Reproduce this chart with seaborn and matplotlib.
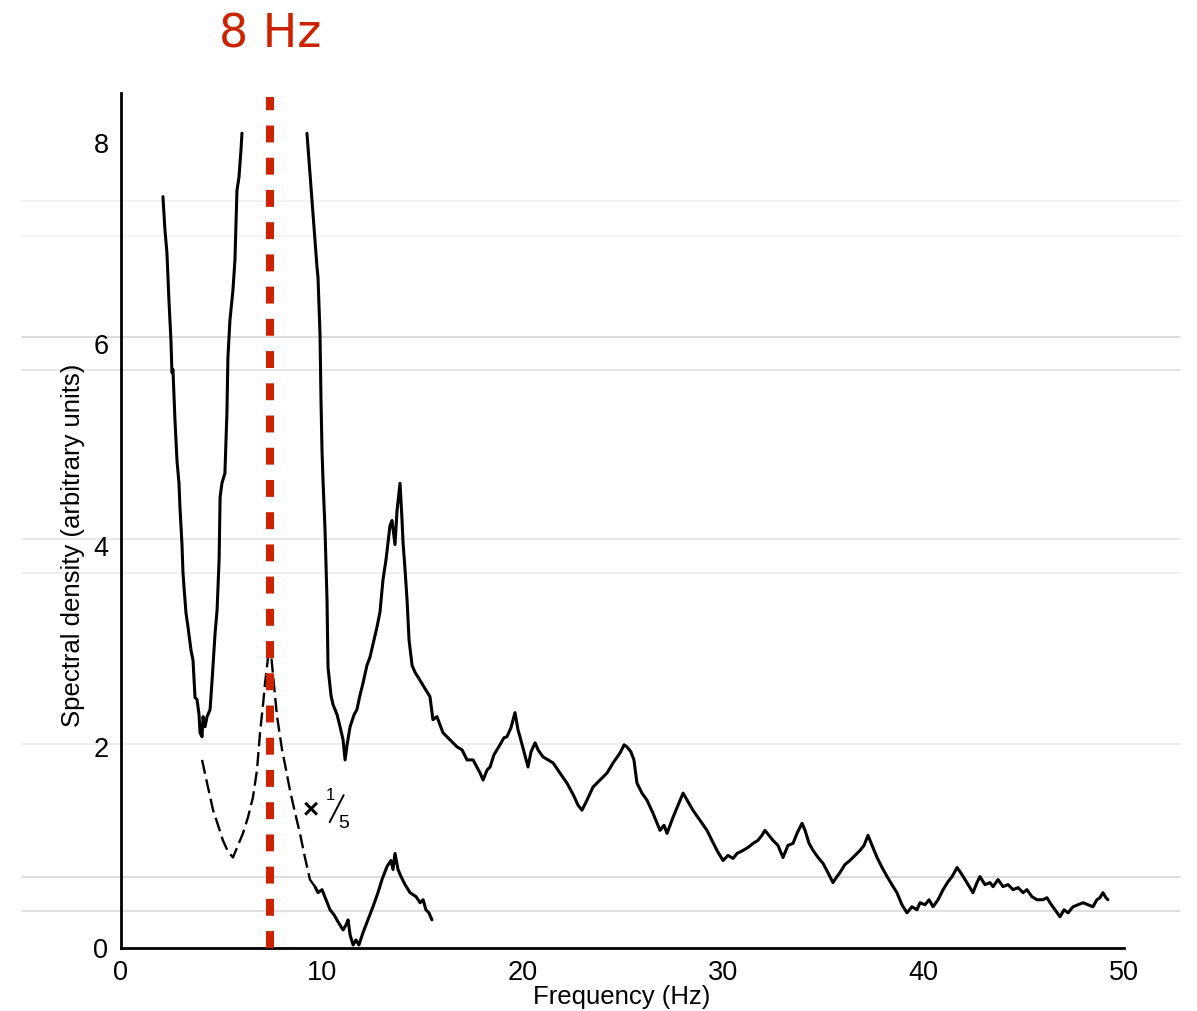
import numpy as np
import pandas as pd
import matplotlib
matplotlib.use("Agg")
import matplotlib.pyplot as plt
from matplotlib.lines import Line2D
import seaborn as sns

# ---------------- data ----------------
main_freq = [2.09, 2.19, 2.29, 2.39, 2.49, 2.54, 2.59, 2.64, 2.69, 2.79, 2.89, 2.94, 3.04, 3.09, 3.14,
             3.24, 3.34, 3.49, 3.59, 3.69, 3.79, 3.89, 3.94, 4.04, 4.09, 4.19, 4.29, 4.44, 4.54, 4.69,
             4.79, 4.89, 4.94, 5.03, 5.18, 5.28, 5.33, 5.43, 5.58, 5.68, 5.78, 5.88, 5.98, 6.03]
main_dens = [7.47, 7.14, 6.91, 6.44, 6.04, 5.72, 5.75, 5.50, 5.25, 4.85, 4.62, 4.38, 4.01, 3.73, 3.59,
             3.33, 3.19, 2.96, 2.86, 2.49, 2.47, 2.32, 2.14, 2.10, 2.30, 2.20, 2.30, 2.37, 2.66, 3.13,
             3.36, 3.86, 4.48, 4.62, 4.72, 5.32, 5.87, 6.24, 6.54, 6.84, 7.53, 7.66, 7.93, 8.10]

main2_freq = [9.27, 9.52, 9.67, 9.77, 9.82, 9.92, 9.97, 10.02, 10.07, 10.17, 10.27, 10.32, 10.47, 10.57,
              10.77, 10.92, 11.07, 11.17, 11.27, 11.42, 11.62, 11.76, 11.91, 12.06, 12.26, 12.41, 12.61,
              12.76, 12.91, 13.06, 13.21, 13.31, 13.41, 13.51, 13.66, 13.76, 13.91, 14.01, 14.06, 14.16,
              14.26, 14.36, 14.51, 14.66, 14.91, 15.15, 15.40, 15.55, 15.75, 16.05, 16.40, 16.75, 17.00,
              17.25, 17.55, 17.90, 18.05, 18.25, 18.40, 18.59, 18.74, 18.89, 19.09, 19.24, 19.44, 19.64,
              19.79, 19.89, 20.09, 20.29, 20.44, 20.64, 20.79, 21.04, 21.29, 21.54, 21.88, 22.23, 22.58,
              22.78, 22.98, 23.23, 23.53, 23.88, 24.23, 24.53, 24.88, 25.08, 25.22, 25.42, 25.57, 25.72,
              25.97, 26.22, 26.52, 26.87, 27.07, 27.22, 27.37, 27.52, 27.77, 28.02, 28.22, 28.51, 28.86,
              29.21, 29.46, 29.71, 29.86, 30.01, 30.26, 30.51, 30.71, 31.01, 31.26, 31.51, 31.75, 31.95,
              32.10, 32.30, 32.50, 32.75, 33.00, 33.25, 33.50, 33.70, 33.95, 34.10, 34.30, 34.50, 34.75,
              35.00, 35.24, 35.49, 35.69, 35.84, 36.09, 36.34, 36.59, 36.84, 37.04, 37.24, 37.44, 37.69,
              37.94, 38.19, 38.43, 38.68, 38.93, 39.18, 39.43, 39.68, 39.83, 40.08, 40.28, 40.48, 40.73,
              40.98, 41.23, 41.43, 41.68, 41.92, 42.17, 42.47, 42.67, 42.82, 43.07, 43.32, 43.47, 43.72,
              43.97, 44.22, 44.47, 44.72, 44.97, 45.16, 45.41, 45.66, 45.96, 46.16, 46.31, 46.56, 46.81,
              47.01, 47.21, 47.46, 47.71, 47.96, 48.21, 48.45, 48.65, 48.80, 48.95, 49.10, 49.20]
main2_dens = [8.10, 7.44, 7.04, 6.77, 6.67, 6.11, 5.45, 4.95, 4.65, 4.16, 3.46, 2.79, 2.51, 2.42,
              2.32, 2.20, 2.07, 1.87, 2.02, 2.20, 2.32, 2.37, 2.51, 2.63, 2.81, 2.89, 3.06,
              3.19, 3.34, 3.66, 3.86, 4.03, 4.20, 4.25, 4.01, 4.35, 4.62, 4.25, 4.03, 3.76,
              3.46, 3.06, 2.81, 2.74, 2.66, 2.58, 2.50, 2.27, 2.30, 2.14, 2.07, 2.00, 1.97,
              1.87, 1.87, 1.74, 1.67, 1.77, 1.80, 1.92, 1.97, 2.02, 2.09, 2.10, 2.19, 2.34,
              2.17, 2.10, 1.95, 1.80, 1.95, 2.04, 1.97, 1.90, 1.87, 1.84, 1.74, 1.64, 1.51,
              1.42, 1.37, 1.47, 1.60, 1.67, 1.74, 1.84, 1.94, 2.02, 2.00, 1.95, 1.87, 1.64,
              1.54, 1.47, 1.34, 1.17, 1.22, 1.14, 1.22, 1.30, 1.42, 1.54, 1.47, 1.37, 1.27,
              1.17, 1.07, 0.97, 0.92, 0.87, 0.92, 0.89, 0.94, 0.97, 1.00, 1.04, 1.07, 1.12,
              1.17, 1.12, 1.07, 1.02, 0.90, 1.02, 1.04, 1.14, 1.24, 1.17, 1.04, 0.97, 0.90,
              0.84, 0.75, 0.65, 0.71, 0.75, 0.83, 0.87, 0.92, 0.97, 1.02, 1.12, 1.02, 0.90,
              0.80, 0.71, 0.63, 0.55, 0.43, 0.35, 0.41, 0.38, 0.45, 0.43, 0.48, 0.41, 0.48,
              0.58, 0.66, 0.71, 0.80, 0.73, 0.65, 0.55, 0.65, 0.71, 0.63, 0.65, 0.61, 0.68,
              0.61, 0.63, 0.58, 0.60, 0.55, 0.58, 0.51, 0.48, 0.48, 0.50, 0.45, 0.38, 0.31,
              0.38, 0.35, 0.41, 0.43, 0.45, 0.43, 0.41, 0.48, 0.50, 0.55, 0.50, 0.48]

scaled_dash_freq = [4.04, 4.29, 4.59, 4.84, 5.08, 5.33, 5.58, 5.83, 6.08, 6.33, 6.58, 6.78, 6.93, 7.08,
                    7.18, 7.33, 7.43, 7.58, 7.78, 8.03, 8.23, 8.42, 8.67, 8.92, 9.17, 9.42, 9.67]
scaled_dash_dens = [1.87, 1.64, 1.37, 1.22, 1.07, 0.96, 0.90, 1.02, 1.14, 1.30, 1.50, 1.77, 2.14, 2.42,
                    2.63, 2.89, 3.03, 2.71, 2.30, 1.97, 1.77, 1.57, 1.35, 1.14, 0.90, 0.68, 0.61]

scaled_solid_freq = [9.67, 9.82, 10.02, 10.22, 10.42, 10.62, 10.82, 11.07, 11.22, 11.32, 11.42, 11.57,
                     11.71, 11.86, 12.06, 12.31, 12.56, 12.81, 13.01, 13.26, 13.46, 13.56, 13.66, 13.81,
                     13.96, 14.16, 14.41, 14.71, 14.91, 15.06, 15.20, 15.35, 15.50]
scaled_solid_dens = [0.61, 0.55, 0.58, 0.48, 0.38, 0.33, 0.26, 0.18, 0.23, 0.28, 0.13, 0.03,
                     0.08, 0.03, 0.15, 0.28, 0.41, 0.55, 0.68, 0.81, 0.87, 0.78, 0.94, 0.78,
                     0.71, 0.63, 0.55, 0.51, 0.45, 0.48, 0.38, 0.35, 0.28]

marker_freq = 7.45
marker_label = "8 Hz"
x_major = [0, 10, 20, 30, 40, 50]
x_minor = [5, 15, 25, 35, 45]
y_major = [0, 2, 4, 6, 8]
y_minor = [1, 3, 5, 7]
x_label = "Frequency (Hz)"
y_label = "Spectral density (arbitrary units)"

# scan artefact lines (figure pixel rows, grey level)
scan_rows = [201, 236, 337, 370, 539, 573, 744, 877, 911]
scan_greys = ["#f1f1f1", "#f3f3f3", "#d9d9d9", "#e2e2e2", "#e6e6e6", "#eeeeee", "#ececec", "#d9d9d9", "#dddddd"]

# ---------------- plotting ----------------
sns.set_style("white")
plt.rcParams['font.family'] = ['Liberation Sans', 'DejaVu Sans']
plt.rcParams['text.color'] = 'black'
plt.rcParams['axes.labelcolor'] = 'black'

W, H = 1197, 1011
fig = plt.figure(figsize=(W / 100, H / 100), dpi=100)
ax = fig.add_axes([121 / W, 1 - 948 / H, (1124 - 121) / W, (948 - 93) / H])
ax.set_facecolor("none")

for r, g in zip(scan_rows, scan_greys):
    fig.add_artist(Line2D([22 / W, 1180 / W], [1 - r / H, 1 - r / H], color=g, lw=1.3,
                          transform=fig.transFigure, zorder=0))

df1 = pd.DataFrame({"f": main_freq, "s": main_dens})
df2 = pd.DataFrame({"f": main2_freq, "s": main2_dens})
df3 = pd.DataFrame({"f": scaled_dash_freq, "s": scaled_dash_dens})
df4 = pd.DataFrame({"f": scaled_solid_freq, "s": scaled_solid_dens})

for d in (df1, df2, df4):
    sns.lineplot(data=d, x="f", y="s", sort=False, estimator=None, color="black", lw=2.2, ax=ax)
ln = sns.lineplot(data=df3, x="f", y="s", sort=False, estimator=None, color="black", lw=1.7, ax=ax)
ln.lines[-1].set_dashes((6, 2.4))

ax.plot([marker_freq, marker_freq], [0, 8.46], color="#cc2200", lw=5.8, dashes=(2.1, 1.9),
        solid_capstyle="butt", dash_capstyle="butt", zorder=5)
ax.annotate(marker_label, xy=(marker_freq, 1 - 35 / H), xycoords=("data", "figure fraction"),
            ha="center", va="center", fontsize=33, color="#cc2200", family=["DejaVu Sans"],
            annotation_clip=False)

# "x 1/5" annotation
ax.text(9.45, 1.37, "×", fontsize=20, ha="center", va="center", color="black", fontweight="bold")
ax.text(10.45, 1.52, "1", fontsize=12, ha="center", va="center", color="black")
ax.plot([10.4, 11.1], [1.25, 1.52], color="black", lw=1.4)
ax.text(11.1, 1.24, "5", fontsize=14, ha="center", va="center", color="black")

ax.set_xlim(0, 50)
ax.set_ylim(0, 8.5)
sns.despine(ax=ax)
for side in ("left", "bottom"):
    ax.spines[side].set_linewidth(2.0)
    ax.spines[side].set_color("black")

ax.set_xticks(x_major)
ax.set_xticks(x_minor, minor=True)
ax.set_yticks(y_major)
ax.set_yticks(y_minor, minor=True)
ax.tick_params(axis="both", which="major", direction="in", length=17, width=1.5, labelsize=19.5,
               colors="black")
ax.tick_params(axis="both", which="minor", direction="in", length=11, width=1.5)
ax.tick_params(axis="x", which="major", pad=9)
ax.tick_params(axis="y", which="major", pad=9)

ax.set_xlabel(x_label, fontsize=18.5, color="black")
ax.set_ylabel(y_label, fontsize=18.5, color="black")
ax.xaxis.set_label_coords((622 - 121) / (1124 - 121), -(985 - 948) / (948 - 93))
ax.yaxis.set_label_coords(-(121 - 85) / (1124 - 121), (948 - 545) / (948 - 93))

fig.savefig("out.png", dpi=100)
